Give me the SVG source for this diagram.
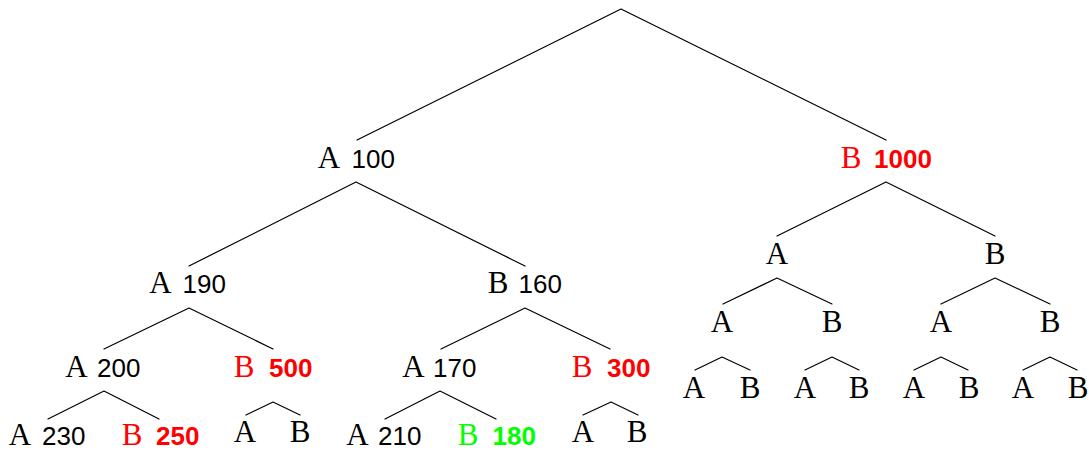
<svg xmlns="http://www.w3.org/2000/svg" width="1089" height="454" viewBox="0 0 1089 454">
<style>
.bg{fill:#ffffff}
.e{stroke:#000;stroke-width:1.2;fill:none;stroke-linecap:round;stroke-linejoin:round}
.l{font-family:"Liberation Serif","Times New Roman",serif;font-size:31px;text-anchor:middle;fill:#000}
.n{font-family:"Liberation Sans",Arial,sans-serif;font-size:26px;fill:#000}
.b{font-weight:bold}
.r{fill:#ff0000}
.g{fill:#00ff00}
</style>
<rect class="bg" x="0" y="0" width="1089" height="454"/>
<g id="connectors">
<polyline class="e" points="357,140 621,9 886,140"/>
<polyline class="e" points="189,266 356,182 525,266"/>
<polyline class="e" points="777,236 886,182 995,236"/>
<polyline class="e" points="104,349 189,308 273,349"/>
<polyline class="e" points="441,349 525,308 610,349"/>
<polyline class="e" points="723,304 777,278 832,304"/>
<polyline class="e" points="941,304 995,278 1050,304"/>
<polyline class="e" points="48,419 104,391 159,419"/>
<polyline class="e" points="246,415 273,402 300,415"/>
<polyline class="e" points="385,419 440,391 496,419"/>
<polyline class="e" points="583,415 611,402 638,415"/>
<polyline class="e" points="695,370 722,357 750,370"/>
<polyline class="e" points="805,370 832,357 859,370"/>
<polyline class="e" points="914,370 941,357 968,370"/>
<polyline class="e" points="1023,370 1050,357 1077,370"/>
</g>
<g id="n-a100"><text class="l" x="329" y="168">A</text><text class="n" x="351.5" y="168">100</text></g>
<g id="n-b1000"><text class="l r" x="851" y="168">B</text><text class="n b r" x="874" y="168">1000</text></g>
<g id="n-a190"><text class="l" x="160.5" y="293">A</text><text class="n" x="182.5" y="293">190</text></g>
<g id="n-b160"><text class="l" x="498" y="293">B</text><text class="n" x="518.5" y="293">160</text></g>
<g id="n-ra"><text class="l" x="777" y="264">A</text></g>
<g id="n-rb"><text class="l" x="995" y="264">B</text></g>
<g id="n-a200"><text class="l" x="76.5" y="377">A</text><text class="n" x="97" y="377">200</text></g>
<g id="n-b500"><text class="l r" x="244" y="377">B</text><text class="n b r" x="269" y="377">500</text></g>
<g id="n-a170"><text class="l" x="413.5" y="377">A</text><text class="n" x="433" y="377">170</text></g>
<g id="n-b300"><text class="l r" x="582" y="377">B</text><text class="n b r" x="607" y="377">300</text></g>
<g id="n-raa"><text class="l" x="722" y="332">A</text></g>
<g id="n-rab"><text class="l" x="832" y="332">B</text></g>
<g id="n-rba"><text class="l" x="941" y="332">A</text></g>
<g id="n-rbb"><text class="l" x="1050" y="332">B</text></g>
<g id="n-a230"><text class="l" x="20" y="445">A</text><text class="n" x="42" y="445">230</text></g>
<g id="n-b250"><text class="l r" x="132" y="445">B</text><text class="n b r" x="156" y="445">250</text></g>
<g id="n-b500a"><text class="l" x="245" y="442">A</text></g>
<g id="n-b500b"><text class="l" x="300" y="442">B</text></g>
<g id="n-a210"><text class="l" x="357.5" y="445">A</text><text class="n" x="378" y="445">210</text></g>
<g id="n-b180"><text class="l g" x="468" y="445">B</text><text class="n b g" x="492.5" y="445">180</text></g>
<g id="n-b300a"><text class="l" x="583" y="442">A</text></g>
<g id="n-b300b"><text class="l" x="637" y="442">B</text></g>
<g id="n-raaa"><text class="l" x="694" y="398">A</text></g>
<g id="n-raab"><text class="l" x="750" y="398">B</text></g>
<g id="n-raba"><text class="l" x="805" y="398">A</text></g>
<g id="n-rabb"><text class="l" x="859" y="398">B</text></g>
<g id="n-rbaa"><text class="l" x="914" y="398">A</text></g>
<g id="n-rbab"><text class="l" x="969" y="398">B</text></g>
<g id="n-rbba"><text class="l" x="1023" y="398">A</text></g>
<g id="n-rbbb"><text class="l" x="1078" y="398">B</text></g>
</svg>
